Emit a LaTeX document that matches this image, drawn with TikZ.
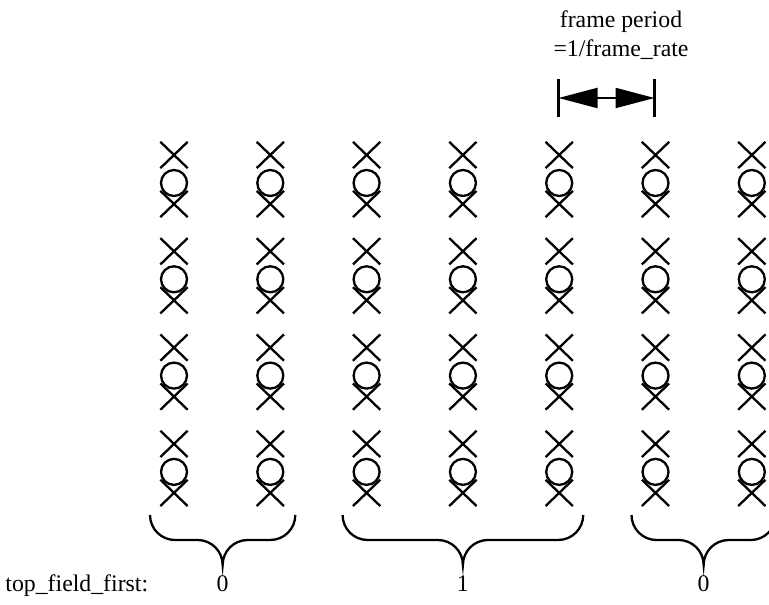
\documentclass[tikz,border=0pt]{standalone}
\usepackage{fontspec}
\setmainfont{Liberation Serif}
\usetikzlibrary{shapes.misc}
\usetikzlibrary{arrows.meta}

% one curly brace under a group of frames, tip named #3
\newcommand{\fieldbrace}[3]{%
  \draw[bracepath] (#1,89) arc[start angle=180,end angle=270,radius=12.5pt]
    -- ({(#1+#2)/2-25},64) arc[start angle=90,end angle=0,radius=12.5pt] coordinate (#3)
    arc[start angle=180,end angle=90,radius=12.5pt]
    -- ({#2-25},64) arc[start angle=270,end angle=360,radius=12.5pt];}

\begin{document}
\begin{tikzpicture}[x=0.5pt,y=0.5pt,
    fieldx/.style={cross out,draw,line width=1.15pt,minimum width=12.5pt,minimum height=12pt,inner sep=0pt},
    fieldo/.style={circle,draw,line width=1.15pt,minimum size=13pt,inner sep=0pt},
    bracepath/.style={line width=1.15pt},
    lbl/.style={font=\fontsize{11.9}{14.3}\selectfont,inner sep=0pt,anchor=base}]
\useasboundingbox (0,0) rectangle (769,604);
% the sample grid: X (top field), O, X (bottom field)
\foreach \c in {0,...,6}{
  \foreach \r in {0,...,3}{
    \pgfmathsetmacro{\xc}{174+96.3*\c}
    \pgfmathsetmacro{\yc}{449-96.3*\r}
    \node[fieldx] (t-\c-\r) at (\xc,\yc) {};
    \node[fieldo] (o-\c-\r) at (\xc,\yc-28) {};
    \node[fieldx] (b-\c-\r) at (\xc,\yc-49) {};
  }
}
% frame period
\coordinate (dl) at (558.5,506);
\coordinate (dr) at (654.5,506);
\draw[line width=1.3pt] ([yshift=-9.5pt]dl) -- ([yshift=9.5pt]dl);
\draw[line width=1.3pt] ([yshift=-9.5pt]dr) -- ([yshift=9.5pt]dr);
\draw[line width=1pt,{Triangle[length=19.5pt,width=10pt]}-{Triangle[length=19.5pt,width=10pt]}] (dl) -- (dr);
\node[lbl] (fp) at (621,576) {frame period};
\node[lbl] (fr) at (621,547) {=1/frame\_rate};
% braces and flags
\fieldbrace{150}{295.3}{b1}
\fieldbrace{342.6}{583.2}{b2}
\fieldbrace{631.5}{775.8}{b3}
\node[lbl,anchor=base west] (tff) at (5,13) {top\_field\_first:};
\node[lbl] (v1) at (222.6,13) {0};
\node[lbl] (v2) at (462.9,13) {1};
\node[lbl] (v3) at (703.6,13) {0};
\end{tikzpicture}
\end{document}
